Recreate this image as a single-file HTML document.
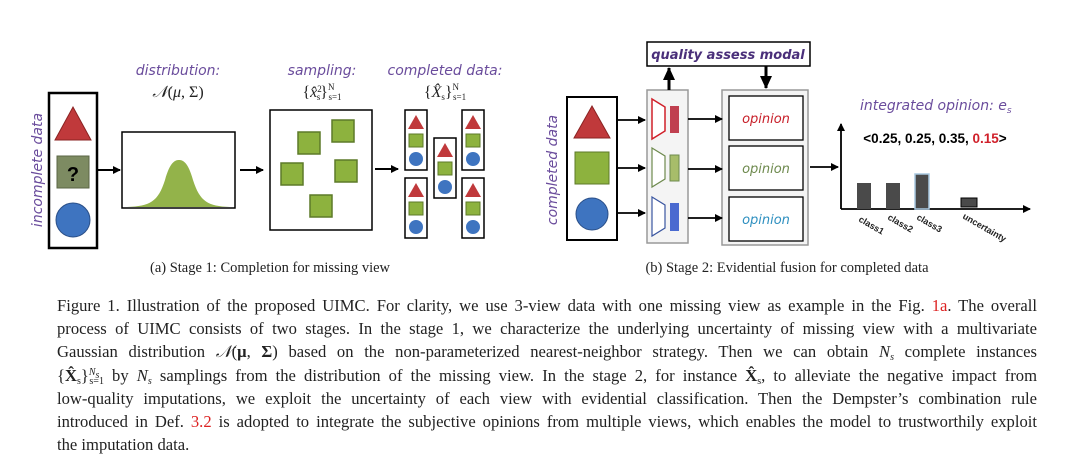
<!DOCTYPE html>
<html><head><meta charset="utf-8"><style>
body{margin:0;width:1080px;height:465px;background:#fff;overflow:hidden;position:relative;font-family:"Liberation Serif",serif}
svg{position:absolute;left:0;top:0}
.p{position:absolute;left:57px;width:980px;font-size:16.6px;color:#222;line-height:23.2px;top:294px}
.p div{height:23.2px;text-align:justify;text-align-last:justify;white-space:nowrap;overflow:visible}
.p div.l{text-align-last:left}
.p sub,.p sup{font-size:10px;line-height:0;vertical-align:baseline;position:relative}
.p sub{top:3px}.p sup{top:-6px}
.r{color:#d22}
</style></head><body>
<svg width="1080" height="290" viewBox="0 0 1080 290">
<defs>
<marker id="a" markerWidth="8" markerHeight="8" refX="7" refY="4" orient="auto" markerUnits="userSpaceOnUse"><path d="M0,0L8,4L0,8z" fill="#000"/></marker>
<marker id="b" markerWidth="14" markerHeight="12" refX="12" refY="6" orient="auto" markerUnits="userSpaceOnUse"><path d="M0,0L13,6L0,12z" fill="#000"/></marker>
<g id="mini">
<rect x="0" y="0" width="22" height="60" fill="#fff" stroke="#000" stroke-width="1.5"/>
<path d="M3,19L11,5L19,19z" fill="#c0393b"/>
<rect x="4" y="24" width="14" height="13" fill="#8db23e" stroke="#5d7a28"/>
<circle cx="11" cy="49" r="7" fill="#3e74c0"/></g>
</defs>
<g font-family="'DejaVu Sans',sans-serif" font-style="italic" fill="#6a4c9c" font-size="14">
<text x="178" y="75" text-anchor="middle">distribution:</text>
<text x="322" y="75" text-anchor="middle">sampling:</text>
<text x="445" y="75" text-anchor="middle">completed data:</text>
<text transform="translate(42,170) rotate(-90)" text-anchor="middle" font-size="14">incomplete data</text>
<text transform="translate(557,170) rotate(-90)" text-anchor="middle" font-size="14">completed data</text>
<text x="860" y="110" font-size="14">integrated opinion: e<tspan font-size="9" dy="3">s</tspan></text>
</g>
<g font-family="'Liberation Serif',serif" font-size="16" fill="#222" text-anchor="middle">
<text x="178" y="97"><tspan font-style="italic">𝒩</tspan>(<tspan font-style="italic">μ</tspan>, Σ)</text>
<text x="322" y="97">{<tspan font-style="italic">x̂</tspan><tspan font-size="9" dy="-5">2</tspan><tspan font-size="9" dy="8" dx="-5">s</tspan><tspan dy="-3">}</tspan><tspan font-size="9" dy="-7">N</tspan><tspan font-size="9" dy="10" dx="-6">s=1</tspan></text>
<text x="445" y="97">{<tspan font-style="italic">X̂</tspan><tspan font-size="9" dy="3">s</tspan><tspan dy="-3">}</tspan><tspan font-size="9" dy="-7">N</tspan><tspan font-size="9" dy="10" dx="-6">s=1</tspan></text>
<text x="270" y="272" font-size="14.5">(a) Stage 1: Completion for missing view</text>
<text x="787" y="272" font-size="14.5">(b) Stage 2: Evidential fusion for completed data</text>
</g>
<!-- stage 1 -->
<rect x="49" y="93" width="48" height="155" fill="#fff" stroke="#000" stroke-width="2.5"/>
<path d="M55,140L73,107L91,140z" fill="#c0393b" stroke="#8a2222"/>
<rect x="57" y="156" width="32" height="32" fill="#7d8b62" stroke="#5a6644"/>
<text x="73" y="181" font-family="'Liberation Sans',sans-serif" font-weight="bold" font-size="20" text-anchor="middle">?</text>
<circle cx="73" cy="220" r="17" fill="#3e74c0" stroke="#2a4f88"/>
<line x1="97" y1="170" x2="120" y2="170" stroke="#000" stroke-width="2" marker-end="url(#a)"/>
<rect x="122" y="132" width="113" height="76" fill="#fff" stroke="#000" stroke-width="1.5"/>
<path d="M127,207C150,206 158,202 165,180C170,162 175,160 179,160C183,160 188,162 193,180C200,202 208,206 230,207z" fill="#93b34a"/>
<line x1="240" y1="170" x2="263" y2="170" stroke="#000" stroke-width="2" marker-end="url(#a)"/>
<rect x="270" y="110" width="102" height="120" fill="#fff" stroke="#000" stroke-width="1.5"/>
<g fill="#8db23e" stroke="#5d7a28" stroke-width="1.5">
<rect x="298" y="132" width="22" height="22"/><rect x="332" y="120" width="22" height="22"/>
<rect x="281" y="163" width="22" height="22"/><rect x="335" y="160" width="22" height="22"/>
<rect x="310" y="195" width="22" height="22"/></g>
<line x1="375" y1="169" x2="398" y2="169" stroke="#000" stroke-width="2" marker-end="url(#a)"/>
<use href="#mini" x="405" y="110"/><use href="#mini" x="405" y="178"/>
<use href="#mini" x="434" y="138"/><use href="#mini" x="462" y="110"/><use href="#mini" x="462" y="178"/>
<!-- stage 2 -->
<rect x="647" y="42" width="163" height="24" fill="#fff" stroke="#000" stroke-width="1.5"/>
<text x="728" y="59" font-family="'DejaVu Sans',sans-serif" font-style="italic" font-weight="bold" font-size="13" fill="#4a2f7a" text-anchor="middle">quality assess modal</text>
<rect x="567" y="97" width="50" height="143" fill="#fff" stroke="#000" stroke-width="2"/>
<path d="M574,138L592,106L610,138z" fill="#c0393b" stroke="#8a2222"/>
<rect x="575" y="152" width="34" height="32" fill="#8db23e" stroke="#5d7a28"/>
<circle cx="592" cy="214" r="16" fill="#3e74c0" stroke="#2a4f88"/>
<rect x="647" y="90" width="41" height="153" fill="#f4f4f4" stroke="#999" stroke-width="1.5"/>
<path d="M652,99L665,107L665,131L652,139z" fill="#fff" stroke="#d0202a" stroke-width="1.5"/>
<rect x="670" y="106" width="9" height="27" fill="#c04050"/>
<path d="M652,148L665,156L665,179L652,187z" fill="#fff" stroke="#6e8a4e" stroke-width="1.2"/>
<rect x="670" y="155" width="9" height="26" fill="#a7bd6a" stroke="#6e8a4e"/>
<path d="M652,197L665,205L665,228L652,236z" fill="#fff" stroke="#3a56a0" stroke-width="1.2"/>
<rect x="670" y="203" width="9" height="28" fill="#4a6ad0"/>
<rect x="722" y="90" width="86" height="155" fill="#f4f4f4" stroke="#999" stroke-width="1.5"/>
<g fill="#fff" stroke="#000" stroke-width="1.3">
<rect x="729" y="96" width="74" height="44"/><rect x="729" y="146" width="74" height="44"/><rect x="729" y="197" width="74" height="44"/></g>
<g font-family="'DejaVu Sans',sans-serif" font-style="italic" font-size="13" text-anchor="middle">
<text x="766" y="123" fill="#c8202a">opinion</text>
<text x="766" y="173" fill="#6e8a4e">opinion</text>
<text x="766" y="224" fill="#2f90c0">opinion</text></g>
<g stroke="#000" stroke-width="1.8" marker-end="url(#a)">
<line x1="617" y1="120" x2="645" y2="120"/><line x1="617" y1="168" x2="645" y2="168"/><line x1="617" y1="213" x2="645" y2="213"/>
<line x1="688" y1="119" x2="722" y2="119"/><line x1="688" y1="169" x2="722" y2="169"/><line x1="688" y1="218" x2="722" y2="218"/>
<line x1="810" y1="167" x2="838" y2="167"/>
<line x1="841" y1="209" x2="841" y2="124"/><line x1="841" y1="209" x2="1030" y2="209"/></g>
<line x1="669" y1="90" x2="669" y2="68" stroke="#000" stroke-width="3" marker-end="url(#b)"/>
<line x1="766" y1="66" x2="766" y2="88" stroke="#000" stroke-width="3" marker-end="url(#b)"/>
<text x="935" y="143" font-family="'Liberation Sans',sans-serif" font-weight="bold" font-size="13.5" text-anchor="middle">&lt;0.25, 0.25, 0.35, <tspan fill="#d0202a">0.15</tspan>&gt;</text>
<g fill="#4a4a4a">
<rect x="857" y="183" width="14" height="26"/><rect x="886" y="183" width="14" height="26"/>
<rect x="915" y="174" width="14" height="35" stroke="#a8c8e0" stroke-width="1.5"/>
<rect x="961" y="198" width="16" height="9" stroke="#000"/></g>
<g font-family="'Liberation Sans',sans-serif" font-size="9" font-weight="bold" fill="#222">
<text transform="translate(858,221) rotate(30)">class1</text>
<text transform="translate(887,219) rotate(30)">class2</text>
<text transform="translate(916,219) rotate(30)">class3</text>
<text transform="translate(962,218) rotate(30)">uncertainty</text></g>
</svg>
<div class="p">
<div>Figure 1. Illustration of the proposed UIMC. For clarity, we use 3-view data with one missing view as example in the Fig. <span class="r">1a</span>. The overall</div>
<div>process of UIMC consists of two stages. In the stage 1, we characterize the underlying uncertainty of missing view with a multivariate</div>
<div>Gaussian distribution <i>𝒩</i>(<b>μ</b>, <b>Σ</b>) based on the non-parameterized nearest-neighbor strategy. Then we can obtain <i>N<sub>s</sub></i> complete instances</div>
<div>{<b>X̂</b><sub>s</sub>}<sup><i>N<sub>s</sub></i></sup><sub style="margin-left:-10px">s=1</sub> by <i>N<sub>s</sub></i> samplings from the distribution of the missing view. In the stage 2, for instance <b>X̂</b><sub>s</sub>, to alleviate the negative impact from</div>
<div>low-quality imputations, we exploit the uncertainty of each view with evidential classification. Then the Dempster’s combination rule</div>
<div>introduced in Def. <span class="r">3.2</span> is adopted to integrate the subjective opinions from multiple views, which enables the model to trustworthily exploit</div>
<div class="l">the imputation data.</div>
</div>
</body></html>
